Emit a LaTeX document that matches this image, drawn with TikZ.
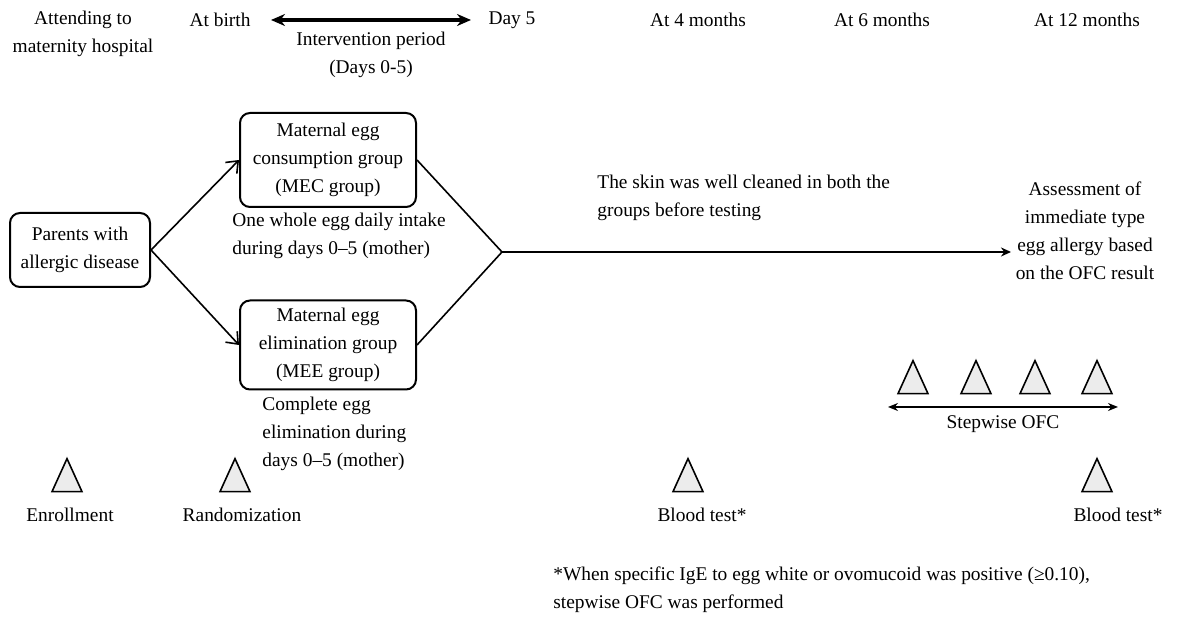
\documentclass[tikz,border=0pt]{standalone}
\usepackage{fontspec}
\setmainfont{Liberation Serif}
\usetikzlibrary{arrows.meta,shapes.geometric}

\tikzset{
  grp/.style={draw,line width=1pt,rounded corners=5pt,align=center,inner sep=0pt},
  tri/.style={isosceles triangle,isosceles triangle apex angle=49,isosceles triangle stretches,
    shape border rotate=90,draw,line width=0.8pt,fill=gray!15,inner sep=0pt,
    minimum width=15pt,minimum height=16.5pt},
  lbl/.style={align=center,inner sep=0pt},
  note/.style={align=left,inner sep=0pt},
  flow/.style={line width=0.8pt,-{Straight Barb[length=5pt,width=8pt]}}
}

\begin{document}
\begin{tikzpicture}[x=0.5pt,y=-0.5pt,font=\fontsize{9.7pt}{14pt}\selectfont]
  \useasboundingbox (0,0) rectangle (1191,624);

  % time line along the top
  \node[lbl] (attend) at (83,34) {Attending to\\maternity hospital};
  \node[lbl] (birth) at (220,20) {At birth};
  \node[lbl] (day5) at (512,20) {Day 5};
  \node[lbl] (interv) at (371,55) {Intervention period\\(Days 0-5)};
  \node[lbl] (m4) at (698,20) {At 4 months};
  \node[lbl] (m6) at (882,20) {At 6 months};
  \node[lbl] (m12) at (1087,20) {At 12 months};
  \coordinate (ivs) at (271,20);
  \coordinate (ive) at (471,20);
  \draw[line width=1.6pt,{Stealth[length=7pt,width=6pt]}-{Stealth[length=7pt,width=6pt]}] (ivs) -- (ive);

  % groups
  \node[grp,minimum width=70pt,minimum height=37pt] (parents) at (80,250) {Parents with\\allergic disease};
  \node[grp,minimum width=88pt,minimum height=47pt] (mec) at (328,160) {Maternal egg\\consumption group\\(MEC group)};
  \node[grp,minimum width=88pt,minimum height=44.5pt] (mee) at (328,345) {Maternal egg\\elimination group\\(MEE group)};
  \node[note,anchor=north west] (mecnote) at (232,213) {One whole egg daily intake\\during days 0--5 (mother)};
  \node[note,anchor=north west] (meenote) at (262,397) {Complete egg\\elimination during\\days 0--5 (mother)};

  \coordinate (merge) at (502,252);
  \draw[flow] (parents.east) -- (mec.west);
  \draw[flow] (parents.east) -- (mee.west);
  \draw[line width=0.8pt] (mec.east) -- (merge) -- (mee.east);

  \node[note,anchor=north west] (skin) at (597,175) {The skin was well cleaned in both the\\groups before testing};
  \node[lbl] (assess) at (1085,231) {Assessment of\\immediate type\\egg allergy based\\on the OFC result};
  \coordinate (assessin) at (1011,252);
  \draw[line width=0.8pt,-{Stealth[length=5pt,width=4.5pt]}] (merge) -- (assessin);

  % stepwise OFC
  \node[tri] (ofc1) at (913,384) {};
  \node[tri] (ofc2) at (976,384) {};
  \node[tri] (ofc3) at (1035,384) {};
  \node[tri] (ofc4) at (1097,384) {};
  \coordinate (ofcs) at (888,407);
  \coordinate (ofce) at (1118,407);
  \draw[line width=0.8pt,{Stealth[length=5pt,width=4pt]}-{Stealth[length=5pt,width=4pt]}] (ofcs) -- (ofce);
  \node[lbl] (ofc) at (1003,424) {Stepwise OFC};

  % events along the bottom
  \node[tri] (enr) at (67,482) {};
  \node[tri] (rand) at (235,482) {};
  \node[tri] (bt4) at (688,482) {};
  \node[tri] (bt12) at (1097,482) {};
  \node[lbl] (enrl) at (70,515) {Enrollment};
  \node[lbl] (randl) at (242,515) {Randomization};
  \node[lbl] (bt4l) at (702,515) {Blood test*};
  \node[lbl] (bt12l) at (1118,515) {Blood test*};

  \node[note,anchor=north west] (foot) at (553,566) {*When specific IgE to egg white or ovomucoid was positive (≥0.10),\\stepwise OFC was performed};
\end{tikzpicture}
\end{document}
